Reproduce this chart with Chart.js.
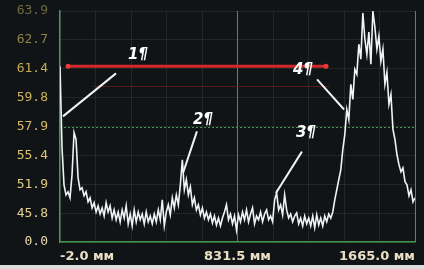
<!doctype html>
<html>
  <head>
    <meta charset="UTF-8">
    <script src="https://cdn.jsdelivr.net/npm/chart.js"></script>
    <style>
      html, body { margin: 0; padding: 0; background: #dcdcdc; }
      #wrap { position: relative; width: 424px; height: 265px; background: #111417; }
    </style>
  </head>
  <body>
    <div id="wrap"><canvas id="scan"></canvas></div>
    <script>
      // trace amplitude in screen divisions (0..8), one sample every ~9.4 mm
      const amplitude = [
        6.09, 3.27, 1.98, 1.63, 1.74, 1.53, 2.33, 3.79, 3.55, 2.23,
        1.81, 1.88, 1.60, 1.74, 1.39, 1.53, 1.18, 1.36, 1.04, 1.25,
        0.97, 1.18, 0.90, 1.36, 1.04, 1.25, 0.83, 1.11, 0.77, 1.04,
        0.70, 1.11, 0.83, 1.25, 0.63, 0.97, 0.56, 1.11, 0.70, 1.04,
        0.77, 0.97, 0.63, 1.04, 0.70, 0.90, 0.63, 0.97, 0.70, 1.11,
        0.77, 1.46, 0.56, 1.04, 1.29, 0.94, 1.53, 1.18, 1.63, 1.29,
        1.98, 2.85, 1.81, 2.16, 1.63, 1.91, 1.29, 1.53, 1.11, 1.29,
        0.94, 1.18, 0.83, 1.04, 0.77, 0.97, 0.66, 0.90, 0.59, 0.83,
        0.56, 0.83, 1.04, 1.29, 0.77, 0.97, 0.63, 0.90, 0.42, 0.94,
        0.70, 1.04, 0.77, 1.11, 0.70, 0.97, 1.18, 0.63, 0.90, 0.77,
        1.04, 0.70, 0.97, 1.11, 0.77, 0.90, 0.70, 1.46, 1.70, 1.11,
        1.29, 0.94, 1.63, 1.11, 0.83, 0.97, 0.70, 0.90, 1.01, 0.63,
        0.83, 0.56, 0.90, 0.63, 0.83, 0.56, 0.90, 0.49, 0.94, 0.59,
        0.83, 0.56, 0.90, 0.70, 0.97, 0.83, 1.04, 1.46, 1.81, 2.16,
        2.50, 3.20, 3.72, 4.59, 4.24, 5.46, 4.94, 5.98, 5.81, 6.85,
        6.33, 7.93, 7.03, 6.50, 7.27, 6.16, 8.00, 7.44, 6.68, 7.13,
        6.26, 6.68, 5.46, 5.88, 4.77, 5.11, 3.90, 3.55, 3.03, 2.68,
        2.43, 2.57, 2.09, 1.98, 1.60, 1.81, 1.39, 1.53
      ];
      const startMm = -2.0;
      const endMm = 1665.0;
      const yTickLabels = ['0.0', '45.8', '51.9', '55.4', '57.9', '59.8', '61.4', '62.7', '63.9'];
      const xTickLabels = ['-2.0 мм', '831.5 мм', '1665.0 мм'];

      // markers: where the leader touches the trace, where it starts, where the text sits
      const markerText = ['1¶', '2¶', '3¶', '4¶'];
      const markerEnd = [[12, 4.35], [576, 2.40], [1012, 1.70], [1332, 4.59]];
      const markerStart = [[261, 5.84], [641, 3.83], [1134, 3.13], [1205, 5.63]];
      const markerLabel = [[364, 6.47], [670, 4.21], [1153, 3.76], [1139, 5.95]];

      const gate = { from: 36, to: 1247, level: 6.09 };
      const gateShadow = { from: 153, to: 1266, level: 5.39 };
      const refLevel = 4;

      const step = (endMm - startMm) / (amplitude.length - 1);
      const points = amplitude.map((v, i) => ({ x: startMm + i * step, y: v }));

      const yColors = ['#e6dab0', '#e6cf92', '#e2c981', '#dcc271', '#d6bb64', '#cfb45c', '#c4aa52', '#8f8246', '#6f6a42'];
      const green = '#44964c';

      const overlay = {
        id: 'overlay',
        beforeDatasetsDraw(chart) {
          const { ctx, chartArea: a, scales: { x, y } } = chart;
          ctx.save();
          ctx.strokeStyle = green;
          ctx.lineWidth = 1;
          ctx.setLineDash([2, 2]);
          const gy = Math.round(y.getPixelForValue(refLevel)) + 0.5;
          ctx.beginPath(); ctx.moveTo(a.left, gy); ctx.lineTo(a.right, gy); ctx.stroke();
          ctx.setLineDash([]);
          ctx.strokeStyle = '#571a1a';
          const dy = Math.round(y.getPixelForValue(gateShadow.level)) + 0.5;
          ctx.beginPath();
          ctx.moveTo(x.getPixelForValue(gateShadow.from), dy);
          ctx.lineTo(x.getPixelForValue(gateShadow.to), dy);
          ctx.stroke();
          ctx.restore();
        },
        afterDatasetsDraw(chart) {
          const { ctx, scales: { x, y } } = chart;
          ctx.save();
          // red gate
          const ry = y.getPixelForValue(gate.level);
          const rx1 = x.getPixelForValue(gate.from);
          const rx2 = x.getPixelForValue(gate.to);
          ctx.strokeStyle = '#d22a2a';
          ctx.lineWidth = 3;
          ctx.beginPath(); ctx.moveTo(rx1, ry); ctx.lineTo(rx2, ry); ctx.stroke();
          ctx.fillStyle = '#e83a3a';
          [rx1, rx2].forEach(px => {
            ctx.beginPath(); ctx.arc(px, ry, 2.5, 0, Math.PI * 2); ctx.fill();
          });
          // leaders and numbers
          ctx.strokeStyle = '#f2f2f2';
          ctx.lineWidth = 2;
          ctx.fillStyle = '#ffffff';
          ctx.font = 'italic bold 15px "DejaVu Sans"';
          ctx.textAlign = 'center';
          ctx.textBaseline = 'middle';
          markerText.forEach((t, i) => {
            ctx.beginPath();
            ctx.moveTo(x.getPixelForValue(markerStart[i][0]), y.getPixelForValue(markerStart[i][1]));
            ctx.lineTo(x.getPixelForValue(markerEnd[i][0]), y.getPixelForValue(markerEnd[i][1]));
            ctx.stroke();
            ctx.fillText(t, x.getPixelForValue(markerLabel[i][0]), y.getPixelForValue(markerLabel[i][1]));
          });
          ctx.restore();
        }
      };

      new Chart(document.getElementById('scan'), {
        type: 'line',
        data: {
          datasets: [{
            data: points,
            borderColor: '#eef3f4',
            borderWidth: 1.6,
            pointRadius: 0,
            tension: 0
          }]
        },
        options: {
          responsive: true,
          maintainAspectRatio: false,
          animation: false,
          events: [],
          layout: { padding: { top: 11, right: 9 } },
          plugins: { legend: { display: false }, tooltip: { enabled: false } },
          scales: {
            x: {
              type: 'linear',
              min: startMm,
              max: endMm,
              afterFit: s => { s.height = 23; },
              afterBuildTicks: s => {
                s.ticks = Array.from({ length: 11 }, (_, k) => ({ value: startMm + k * (endMm - startMm) / 10 }));
              },
              border: { color: green, width: 1.5 },
              grid: {
                drawTicks: false,
                color: c => (c.index === 5 || c.index === 10) ? green : 'rgba(120,130,130,0.17)'
              },
              ticks: {
                autoSkip: false,
                maxRotation: 0,
                align: 'inner',
                padding: 7,
                color: '#eadfc4',
                font: { family: 'DejaVu Sans', size: 13, weight: 'bold' },
                callback: (v, i) => i === 0 ? xTickLabels[0] : i === 5 ? xTickLabels[1] : i === 10 ? xTickLabels[2] : ''
              }
            },
            y: {
              min: 0,
              max: 8,
              afterFit: s => { s.width = 60; s.paddingTop = 0; s.paddingBottom = 0; },
              border: { color: '#4f8f62', width: 1.5 },
              grid: { drawTicks: false, color: 'rgba(120,130,130,0.17)' },
              ticks: {
                stepSize: 1,
                padding: 12,
                color: c => yColors[c.index],
                font: { family: 'DejaVu Sans Mono', size: 13 },
                callback: (v, i) => yTickLabels[i]
              }
            }
          }
        },
        plugins: [overlay]
      });
    </script>
  </body>
</html>
